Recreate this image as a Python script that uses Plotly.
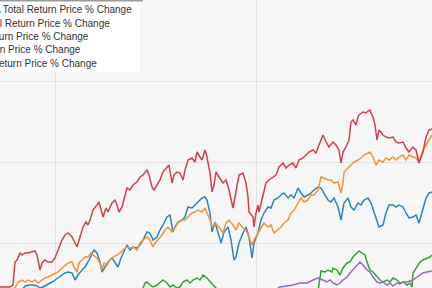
import plotly.graph_objects as go

# Day index (x) and % change (y)
red_x = [0,10,13,15,17,20,22,25,28,32,35,37,38,40,42,45,48,52,55,58,62,65,68,72,75,77,80,83,86,88,
         90,93,97,99,102,103,106,108,112,115,117,119,122,125,127,130,133,137,140,143,147,149,152,154,157,160,163,167,169,172,
         174,177,180,183,185,188,192,195,197,200,202,205,207,210,212,214,216,219,223,226,229,233,236,239,243,246,248,249,253,254,
         256,258,259,263,266,269,273,276,279,283,286,289,293,296,299,303,306,309,313,316,319,323,326,329,333,336,339,341,343,346,
         349,351,353,356,358,359,363,366,368,370,371,373,375,377,379,383,386,389,393,396,399,403,406,409,413,416,419,423,426,429,432]
red_y = [1,1,3,26,28,35,33,35,35,36,37,33,28,18,25,28,26,26,30,38,48,53,55,51,45,41,51,61,66,63,
         68,78,83,86,75,71,80,76,85,88,83,76,81,91,100,98,103,106,111,113,118,113,101,98,103,108,116,121,123,105,
         113,116,115,108,118,128,130,126,136,131,128,138,131,115,96,103,116,111,105,108,98,80,98,113,115,105,91,76,71,61,
         75,83,76,91,105,108,111,113,121,125,120,123,125,120,128,130,133,136,138,135,143,153,146,141,146,143,138,125,136,141,
         148,166,168,163,171,173,176,175,177,178,175,171,163,148,158,153,151,150,151,146,145,146,140,136,141,138,125,136,151,158,159]

orange_x = [14,17,18,22,25,28,32,35,38,42,45,48,52,55,58,62,65,68,72,74,77,79,82,85,88,91,93,97,100,102,
            104,107,110,113,117,120,123,127,130,133,137,140,143,147,150,153,155,158,162,165,168,172,175,178,182,185,188,192,195,198,
            202,205,207,210,212,215,219,223,226,229,233,236,239,243,246,249,252,254,258,261,264,268,271,274,278,281,284,288,291,294,
            298,301,304,308,311,314,318,321,324,328,331,334,338,341,343,344,348,351,354,358,361,364,368,370,373,376,379,383,386,389,
            393,396,399,403,406,409,413,416,419,423,426,429,432]
orange_y = [-2,5,6,8,6,8,6,8,5,8,10,11,13,15,16,20,23,25,26,21,16,25,28,31,31,35,33,30,25,18,
            25,23,28,31,33,35,38,41,40,41,38,45,48,51,48,41,45,48,53,58,61,56,60,65,68,68,71,75,76,78,
            76,80,75,68,61,65,61,55,65,68,63,58,65,60,58,51,43,48,55,61,65,61,63,55,58,61,65,68,75,78,
            85,90,86,88,93,93,98,111,110,108,108,105,106,95,105,116,120,123,126,128,130,133,135,136,131,123,128,126,130,128,
            131,128,131,133,128,133,131,130,126,138,143,148,153]

blue_x = [22,25,30,33,37,40,43,47,52,55,58,62,65,68,72,75,78,82,85,88,92,94,97,100,102,105,108,112,115,118,
          121,124,127,130,133,137,140,143,147,150,153,157,160,163,167,170,173,175,178,182,185,188,192,195,198,202,205,207,210,212,
          215,219,221,224,228,231,234,236,239,243,246,249,252,254,258,261,264,268,271,274,278,281,284,288,291,294,298,301,304,308,
          311,314,318,321,324,328,331,334,338,341,344,348,351,354,358,361,364,368,371,373,376,379,383,386,389,393,396,399,403,406,
          409,413,416,419,423,426,429,432]
blue_y = [-2,2,3,3,2,0,1,3,6,8,10,13,15,16,15,8,13,18,21,26,35,38,35,26,16,21,26,30,26,21,
          30,36,43,38,41,40,43,48,56,55,48,51,58,63,71,73,56,61,66,68,71,81,80,83,86,90,91,88,75,56,
          66,51,45,56,61,48,28,31,45,55,61,51,30,45,55,68,75,81,80,88,90,93,95,90,93,90,100,95,91,93,
          95,98,101,100,95,88,86,90,81,68,85,90,81,78,85,83,88,90,85,78,70,61,63,75,83,83,81,83,81,75,
          70,71,73,65,81,90,95,96]

green_x = [140,143,145,147,150,153,157,160,163,167,170,173,177,180,183,187,190,193,197,200,203,207,210,213,216,218,235,260,290,315,
           318,320,321,325,328,332,333,337,340,343,347,350,353,357,359,362,365,367,370,373,377,380,383,387,390,393,397,400,403,407,
           410,412,413,417,420,423,427,430,432]
green_y = [-4,0,5,6,3,1,3,6,8,5,1,3,0,1,6,8,5,8,10,8,13,10,6,3,0,-2,-8,-12,-9,-5,
           -3,8,17,16,18,16,20,18,13,20,25,26,31,35,37,35,33,26,18,16,11,8,6,8,6,10,8,5,6,3,
           5,1,15,21,26,28,30,31,33]

purple_x = [240,260,275,280,287,293,300,307,313,318,323,327,330,333,337,340,343,347,350,353,
            357,360,363,367,370,373,377,380,383,387,390,393,397,400,403,407,410,413,417,420,423,427,432]
purple_y = [-8,-5,-2,1,2,3,5,5,8,10,8,6,8,5,3,5,8,11,15,18,
            23,26,23,18,16,11,6,5,6,3,5,2,5,4,6,6,7,8,11,13,15,16,17]

names = ["Fund A", "Fund B", "Fund C", "Fund D", "Fund E"]
suffix = "Total Return Price % Change"
colors = ["#2b84c0", "#ee9535", "#35a035", "#d2414b", "#9768c0"]

series = [(blue_x, blue_y), (orange_x, orange_y), (green_x, green_y), (red_x, red_y), (purple_x, purple_y)]

fig = go.Figure()
for (xs, ys), n, c in zip(series, names, colors):
    fig.add_trace(go.Scatter(x=xs, y=ys, mode="lines", name=f"{n} {suffix}",
                             line=dict(color=c, width=1.5), showlegend=False))

W, H = 432, 288
fig.update_layout(
    width=W, height=H, autosize=False,
    margin=dict(l=0, r=0, t=0, b=0, pad=0),
    paper_bgcolor="#f6f6f6", plot_bgcolor="#f6f6f6",
    font=dict(family="Liberation Sans, Arial, sans-serif", size=10, color="#333333"),
    xaxis=dict(range=[0, 432], showticklabels=False, zeroline=False, showline=False,
               showgrid=True, gridcolor="#e3e3e3", gridwidth=1, tick0=55, dtick=201, ticks=""),
    yaxis=dict(range=[0, 288], showticklabels=False, zeroline=False, showline=False,
               showgrid=True, gridcolor="#e3e3e3", gridwidth=1, tick0=45, dtick=80.7, ticks=""),
)

# legend box (clipped at the left edge, as in the reference)
fig.add_shape(type="rect", xref="paper", yref="paper", x0=-0.1, x1=140 / W, y0=1 - 72 / H, y1=1.01,
              fillcolor="white", line=dict(width=0), layer="above")
fig.add_shape(type="line", xref="paper", yref="paper", x0=-0.1, x1=143 / W, y0=1 - 0.5 / H, y1=1 - 0.5 / H,
              line=dict(color="#9a9a9a", width=2), layer="above")

right_ends = [132, 110, 89, 81, 97]
for i, (n, r) in enumerate(zip(names, right_ends)):
    fig.add_annotation(xref="paper", yref="paper", x=r / W, y=1 - (10 + 13.3 * i) / H,
                       xanchor="right", yanchor="middle", showarrow=False,
                       text=f"{n} {suffix}", font=dict(size=10, color="#333333"),
                       borderpad=0, borderwidth=0)

fig.write_html("out.html")
